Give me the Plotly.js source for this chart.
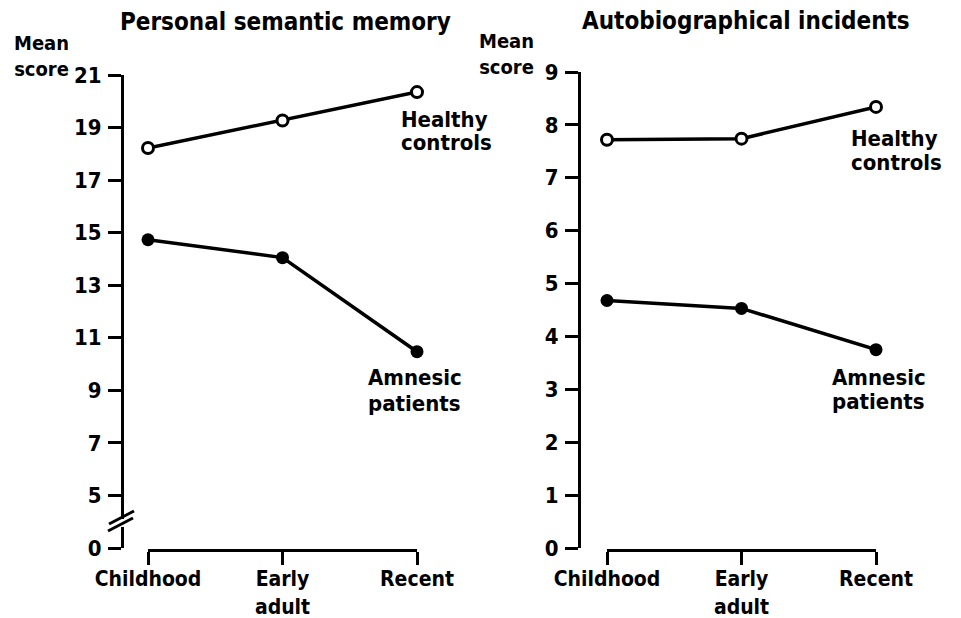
<!DOCTYPE html>
<html>
<head>
<meta charset="utf-8">
<script src="https://cdn.plot.ly/plotly-3.0.1.min.js"></script>
<style>html,body{margin:0;padding:0;background:#fff;}#chart{width:961px;height:618px;}</style>
</head>
<body>
<div id="chart"></div>
<script>
// ---- data ----
const periods = ['Childhood', 'Early<br>adult', 'Recent'];
const periodPos = [0, 1, 2];
const semanticHealthy = [18.22, 19.27, 20.35];
const semanticAmnesic = [14.73, 14.05, 10.47];
const incidentsHealthy = [7.72, 7.74, 8.34];
const incidentsAmnesic = [4.68, 4.53, 3.75];
// left axis is broken: the bottom tick labelled 0 sits where 3 would be
const semanticTickVals = [3, 5, 7, 9, 11, 13, 15, 17, 19, 21];
const semanticTickText = ['0', '5', '7', '9', '11', '13', '15', '17', '19', '21'];
const incidentTickVals = [0, 1, 2, 3, 4, 5, 6, 7, 8, 9];
const incidentTickText = ['0', '1', '2', '3', '4', '5', '6', '7', '8', '9'];

// ---- layout helpers ----
const W = 961, H = 618;
const px = x => x / W;
const py = y => 1 - y / H;
const FONT = 'DejaVu Sans Condensed, DejaVu Sans, sans-serif';
const yf = {family: FONT, size: 22, color: 'black', weight: 'bold'};
const xf = {family: FONT, size: 21, color: 'black', weight: 'bold'};

function lineTrace(x, y, xa, ya, open) {
  return {
    x: x, y: y, xaxis: xa, yaxis: ya, type: 'scatter', mode: 'lines+markers',
    cliponaxis: false, showlegend: false, hoverinfo: 'skip',
    line: {color: 'black', width: 3.5},
    marker: open ? {symbol: 'circle', size: 11, color: 'white', line: {color: 'black', width: 3}}
                 : {symbol: 'circle', size: 13, color: 'black', line: {color: 'black', width: 0}}
  };
}

const data = [
  lineTrace(periodPos, semanticHealthy, 'x', 'y', true),
  lineTrace(periodPos, semanticAmnesic, 'x', 'y', false),
  lineTrace(periodPos, incidentsHealthy, 'x2', 'y2', true),
  lineTrace(periodPos, incidentsAmnesic, 'x2', 'y2', false)
];

function xAxis(domain) {
  return {
    domain: domain, range: [0, 2], anchor: 'free', position: py(550),
    showline: true, linewidth: 3, linecolor: 'black', mirror: false,
    ticks: 'outside', ticklen: 13, tickwidth: 3, tickcolor: 'black',
    tickvals: periodPos, ticktext: periods, tickfont: xf,
    showgrid: false, zeroline: false, fixedrange: true, ticklabelstandoff: -4
  };
}
function yAxis(domain, pos, range, tv, tt) {
  return {
    domain: domain, range: range, anchor: 'free', position: pos,
    showline: true, linewidth: 3, linecolor: 'black',
    ticks: 'outside', ticklen: 13, tickwidth: 3, tickcolor: 'black',
    tickvals: tv, ticktext: tt, tickfont: yf,
    showgrid: false, zeroline: false, fixedrange: true, ticklabelstandoff: 2
  };
}

function ann(text, x, y, xanchor, size) {
  return {
    text: text, xref: 'paper', yref: 'paper', x: px(x), y: py(y),
    xanchor: xanchor, yanchor: 'middle', align: xanchor, showarrow: false,
    font: {family: FONT, size: size || 22, color: 'black', weight: 'bold'}
  };
}

const layout = {
  width: W, height: H,
  margin: {l: 0, r: 0, t: 0, b: 0},
  paper_bgcolor: 'white', plot_bgcolor: 'rgba(0,0,0,0)',
  showlegend: false,
  xaxis: xAxis([px(148), px(417)]),
  yaxis: yAxis([py(548), py(75)], px(122), [3, 21], semanticTickVals, semanticTickText),
  xaxis2: xAxis([px(607), px(876)]),
  yaxis2: yAxis([py(548), py(72)], px(579), [0, 9], incidentTickVals, incidentTickText),
  annotations: [
    ann('Personal semantic memory', 285, 22, 'center', 24),
    ann('Autobiographical incidents', 746, 21, 'center', 24),
    ann('Mean<br>score', 41, 56, 'center', 20),
    ann('Mean<br>score', 506, 54, 'center', 20),
    ann('Healthy', 399, 119, 'left'),
    ann('controls', 399, 143, 'left'),
    ann('Amnesic', 366, 377, 'left'),
    ann('patients', 366, 403, 'left'),
    ann('Healthy', 849, 138, 'left'),
    ann('controls', 849, 162, 'left'),
    ann('Amnesic', 830, 377, 'left'),
    ann('patients', 830, 401, 'left')
  ],
  shapes: [
    // axis break on the left panel
    {type: 'line', xref: 'paper', yref: 'paper', x0: px(122), x1: px(122), y0: py(519), y1: py(527),
     line: {color: 'white', width: 6}},
    {type: 'line', xref: 'paper', yref: 'paper', x0: px(109), y0: py(524), x1: px(134), y1: py(511),
     line: {color: 'black', width: 3}},
    {type: 'line', xref: 'paper', yref: 'paper', x0: px(108), y0: py(531), x1: px(133), y1: py(518),
     line: {color: 'black', width: 3}}
  ]
};

Plotly.newPlot('chart', data, layout, {staticPlot: true, displayModeBar: false});
</script>
</body>
</html>
